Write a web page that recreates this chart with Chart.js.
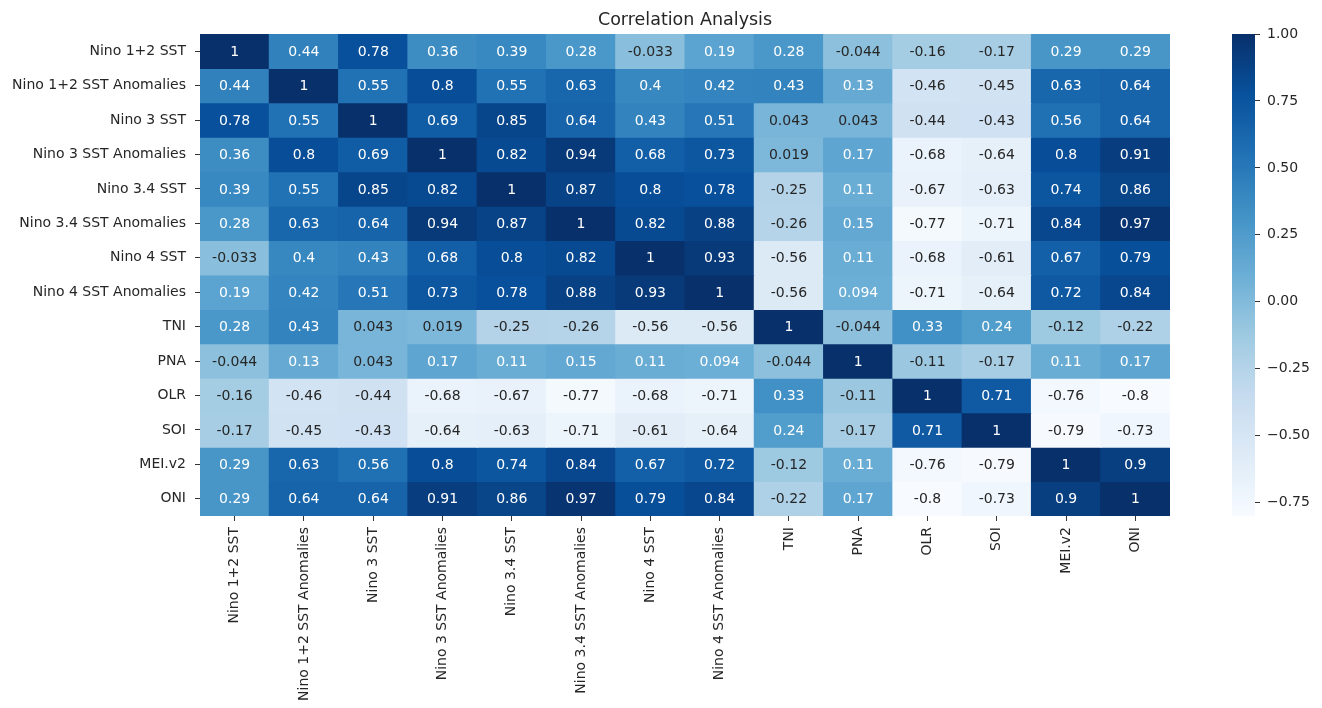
<!DOCTYPE html>
<html>
<head>
<meta charset="utf-8">
<title>Correlation Analysis</title>
<script src="https://cdn.jsdelivr.net/npm/chart.js@4.4.1/dist/chart.umd.min.js"></script>
<style>
  html, body { margin: 0; padding: 0; background: #ffffff; }
  #wrap { position: relative; width: 1322px; height: 708px; }
  #heat { position: absolute; left: 0; top: 0; }
  #cbar { position: absolute; left: 1190px; top: 0; }
</style>
</head>
<body>
<div id="wrap">
  <canvas id="heat" width="1190" height="708"></canvas>
  <canvas id="cbar" width="132" height="708"></canvas>
</div>
<script>
// Variable names (rows top to bottom, columns left to right)
const variables = [
  'Nino 1+2 SST', 'Nino 1+2 SST Anomalies', 'Nino 3 SST', 'Nino 3 SST Anomalies',
  'Nino 3.4 SST', 'Nino 3.4 SST Anomalies', 'Nino 4 SST', 'Nino 4 SST Anomalies',
  'TNI', 'PNA', 'OLR', 'SOI', 'MEI.v2', 'ONI'
];

// Pearson correlation of each variable with every other one
const nino12Sst      = [1, 0.44, 0.78, 0.36, 0.39, 0.28, -0.033, 0.19, 0.28, -0.044, -0.16, -0.17, 0.29, 0.29];
const nino12Anom     = [0.44, 1, 0.55, 0.8, 0.55, 0.63, 0.4, 0.42, 0.43, 0.13, -0.46, -0.45, 0.63, 0.64];
const nino3Sst       = [0.78, 0.55, 1, 0.69, 0.85, 0.64, 0.43, 0.51, 0.043, 0.043, -0.44, -0.43, 0.56, 0.64];
const nino3Anom      = [0.36, 0.8, 0.69, 1, 0.82, 0.94, 0.68, 0.73, 0.019, 0.17, -0.68, -0.64, 0.8, 0.91];
const nino34Sst      = [0.39, 0.55, 0.85, 0.82, 1, 0.87, 0.8, 0.78, -0.25, 0.11, -0.67, -0.63, 0.74, 0.86];
const nino34Anom     = [0.28, 0.63, 0.64, 0.94, 0.87, 1, 0.82, 0.88, -0.26, 0.15, -0.77, -0.71, 0.84, 0.97];
const nino4Sst       = [-0.033, 0.4, 0.43, 0.68, 0.8, 0.82, 1, 0.93, -0.56, 0.11, -0.68, -0.61, 0.67, 0.79];
const nino4Anom      = [0.19, 0.42, 0.51, 0.73, 0.78, 0.88, 0.93, 1, -0.56, 0.094, -0.71, -0.64, 0.72, 0.84];
const tni            = [0.28, 0.43, 0.043, 0.019, -0.25, -0.26, -0.56, -0.56, 1, -0.044, 0.33, 0.24, -0.12, -0.22];
const pna            = [-0.044, 0.13, 0.043, 0.17, 0.11, 0.15, 0.11, 0.094, -0.044, 1, -0.11, -0.17, 0.11, 0.17];
const olr            = [-0.16, -0.46, -0.44, -0.68, -0.67, -0.77, -0.68, -0.71, 0.33, -0.11, 1, 0.71, -0.76, -0.8];
const soi            = [-0.17, -0.45, -0.43, -0.64, -0.63, -0.71, -0.61, -0.64, 0.24, -0.17, 0.71, 1, -0.79, -0.73];
const meiV2          = [0.29, 0.63, 0.56, 0.8, 0.74, 0.84, 0.67, 0.72, -0.12, 0.11, -0.76, -0.79, 1, 0.9];
const oni            = [0.29, 0.64, 0.64, 0.91, 0.86, 0.97, 0.79, 0.84, -0.22, 0.17, -0.8, -0.73, 0.9, 1];

// Colour bar tick values
const colorbarTicks = [-0.75, -0.5, -0.25, 0, 0.25, 0.5, 0.75, 1.0];

const matrix = [nino12Sst, nino12Anom, nino3Sst, nino3Anom, nino34Sst, nino34Anom,
                nino4Sst, nino4Anom, tni, pna, olr, soi, meiV2, oni];

const vmin = Math.min(...matrix.flat());
const vmax = Math.max(...matrix.flat());

// "Blues" sequential colour map stops
const bluesStops = ['#f7fbff', '#deebf7', '#c6dbef', '#9ecae1', '#6baed6',
                    '#4292c6', '#2171b5', '#08519c', '#08306b'];

function hexToRgb(h) {
  return [parseInt(h.slice(1, 3), 16), parseInt(h.slice(3, 5), 16), parseInt(h.slice(5, 7), 16)];
}
function bluesRgb(t) {
  t = Math.max(0, Math.min(1, t));
  const n = bluesStops.length - 1;
  const p = t * n;
  const i = Math.min(Math.floor(p), n - 1);
  const f = p - i;
  const a = hexToRgb(bluesStops[i]), b = hexToRgb(bluesStops[i + 1]);
  return a.map((c, k) => c + (b[k] - c) * f);
}
function colorFor(v) {
  const c = bluesRgb((v - vmin) / (vmax - vmin));
  return `rgb(${c.map(Math.round).join(',')})`;
}
function luminance(rgb) {
  const lin = rgb.map(c => {
    c /= 255;
    return c <= 0.03928 ? c / 12.92 : Math.pow((c + 0.055) / 1.055, 2.4);
  });
  return 0.2126 * lin[0] + 0.7152 * lin[1] + 0.0722 * lin[2];
}
function textColorFor(v) {
  const c = bluesRgb((v - vmin) / (vmax - vmin));
  return luminance(c) > 0.408 ? '#262626' : '#ffffff';
}
// Two significant digits, like the "%.2g" format
function fmt(v) {
  return parseFloat(v.toPrecision(2)).toString();
}

const FONT = "'DejaVu Sans', 'Liberation Sans', sans-serif";
const INK = '#262626';

// Write each correlation value in the middle of its cell
const cellLabels = {
  id: 'cellLabels',
  afterDatasetsDraw(chart) {
    const ctx = chart.ctx;
    ctx.save();
    ctx.font = `14px ${FONT}`;
    ctx.textAlign = 'center';
    ctx.textBaseline = 'middle';
    chart.data.datasets.forEach((ds, i) => {
      const meta = chart.getDatasetMeta(i);
      meta.data.forEach((el, j) => {
        const v = matrix[i][j];
        ctx.fillStyle = textColorFor(v);
        ctx.fillText(fmt(v), el.x, (el.y + el.base) / 2 + 1);
      });
    });
    ctx.restore();
  }
};

const datasets = matrix.map((row, i) => ({
  label: variables[i],
  data: row.map(() => [i, i + 1]),
  backgroundColor: row.map(colorFor),
  borderWidth: 0,
  grouped: false,
  barPercentage: 1,
  categoryPercentage: 1,
  inflateAmount: 0.5
}));

new Chart(document.getElementById('heat'), {
  type: 'bar',
  data: { labels: variables, datasets },
  options: {
    responsive: false,
    animation: false,
    events: [],
    layout: { padding: { left: 0, right: 20, top: 0, bottom: 0 } },
    plugins: {
      legend: { display: false },
      tooltip: { enabled: false },
      title: {
        display: true,
        text: 'Correlation Analysis',
        fullSize: false,
        color: INK,
        font: { family: FONT, size: 17.5, weight: 'normal', lineHeight: 1.2 },
        padding: { top: 9.5, bottom: 3.5 }
      }
    },
    scales: {
      x: {
        type: 'category',
        offset: true,
        border: { display: false },
        grid: { display: true, offset: false, drawOnChartArea: false, drawTicks: true, tickLength: 5, color: '#333333', lineWidth: 1 },
        ticks: {
          autoSkip: false, maxRotation: 90, minRotation: 90, padding: 6,
          color: INK, font: { family: FONT, size: 14 }
        },
        afterFit(scale) { scale.height = 192; }
      },
      y: {
        type: 'linear',
        min: 0,
        max: variables.length,
        reverse: true,
        border: { display: false },
        grid: { display: true, drawOnChartArea: false, drawTicks: true, tickLength: 5, color: '#333333', lineWidth: 1 },
        afterBuildTicks(scale) {
          scale.ticks = variables.map((_, i) => ({ value: i + 0.5 }));
        },
        ticks: {
          autoSkip: false, padding: 9,
          color: INK, font: { family: FONT, size: 14 },
          callback: (v) => variables[Math.floor(v)]
        },
        afterFit(scale) { scale.width = 200; }
      }
    }
  },
  plugins: [cellLabels]
});

// Colour bar: one floating bar spanning the value range, filled with the colour map
new Chart(document.getElementById('cbar'), {
  type: 'bar',
  data: {
    labels: ['r'],
    datasets: [{
      data: [[vmin, vmax]],
      borderWidth: 0,
      barPercentage: 1,
      categoryPercentage: 1,
      backgroundColor(context) {
        const chart = context.chart;
        if (!chart.chartArea) return bluesStops[4];
        const ys = chart.scales.y;
        const y0 = ys.getPixelForValue(vmin), y1 = ys.getPixelForValue(vmax);
        const g = chart.ctx.createLinearGradient(0, y0, 0, y1);
        bluesStops.forEach((c, k) => g.addColorStop(k / (bluesStops.length - 1), c));
        return g;
      }
    }]
  },
  options: {
    responsive: false,
    animation: false,
    events: [],
    layout: { padding: { left: 42, right: 0, top: 34, bottom: 192 } },
    plugins: { legend: { display: false }, tooltip: { enabled: false } },
    scales: {
      x: { display: false, offset: true },
      y: {
        type: 'linear',
        position: 'right',
        min: vmin,
        max: vmax,
        border: { display: false },
        grid: { display: true, drawOnChartArea: false, drawTicks: true, tickLength: 5, color: '#333333', lineWidth: 1 },
        afterBuildTicks(scale) {
          scale.ticks = colorbarTicks.map(v => ({ value: v }));
        },
        ticks: {
          padding: 7, color: INK, font: { family: FONT, size: 14 },
          callback: (v) => (v < 0 ? '\u2212' : '') + Math.abs(v).toFixed(2)
        },
        afterFit(scale) { scale.width = 67; }
      }
    }
  }
});
</script>
</body>
</html>
